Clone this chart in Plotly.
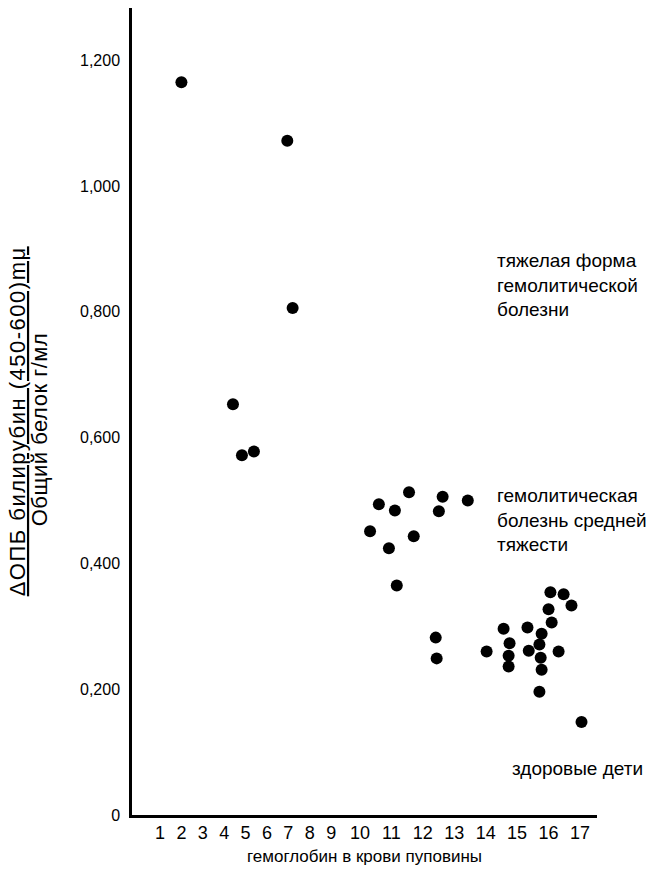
import numpy as np
import plotly.graph_objects as go

# Hemoglobin in cord blood (x) and bilirubin/protein ratio (y)
hemoglobin = [2.0, 6.95, 7.2, 4.41, 4.83, 5.39,
              11.56, 10.60, 11.11, 12.63, 13.43, 12.51, 10.32, 11.71, 10.92, 11.17, 12.41, 12.44,
              16.06, 16.48, 16.73, 16.00, 16.10, 14.57, 15.33, 15.78, 14.03, 14.76, 14.73, 14.73,
              15.37, 15.71, 15.75, 15.78, 16.32, 15.71, 17.05]
ratio = [1.165, 1.072, 0.806, 0.653, 0.572, 0.578,
         0.513, 0.494, 0.484, 0.506, 0.500, 0.483, 0.451, 0.443, 0.424, 0.365, 0.282, 0.249,
         0.354, 0.351, 0.333, 0.327, 0.306, 0.296, 0.298, 0.288, 0.260, 0.273, 0.253, 0.236,
         0.261, 0.271, 0.250, 0.231, 0.260, 0.196, 0.148]

x_ticks = list(range(1, 18))
y_ticks = [0, 0.2, 0.4, 0.6, 0.8, 1.0, 1.2]
y_tick_labels = ["0", "0,200", "0,400", "0,600", "0,800", "1,000", "1,200"]

y_title_num = "ΔОПБ билирубин (450-600)mμ"
y_title_den = "Общий белок г/мл"
x_title = "гемоглобин в крови пуповины"
label_severe = "тяжелая форма<br>гемолитической<br>болезни"
label_moderate = "гемолитическая<br>болезнь средней<br>тяжести"
label_healthy = "здоровые дети"

# The source axis is not uniform: the scale widens above 9 g.
SCALE_KNOTS_HB = [0, 9, 10, 18]
SCALE_KNOTS_AX = [0, 9, 10.35, 10.35 + 8 * 1.469]


def hb_axis(h):
    return np.interp(h, SCALE_KNOTS_HB, SCALE_KNOTS_AX)


FONT = "Liberation Sans, Arial, sans-serif"

fig = go.Figure()
fig.add_trace(go.Scatter(
    x=hb_axis(hemoglobin), y=ratio, mode="markers",
    marker=dict(color="black", size=12, line=dict(width=0)),
    showlegend=False,
))

fig.update_layout(
    width=656, height=871,
    margin=dict(l=132, r=59, t=8, b=56),
    paper_bgcolor="white", plot_bgcolor="white",
    font=dict(family=FONT, color="black"),
    xaxis=dict(
        range=[-0.31, 21.43], showgrid=False, zeroline=False,
        showline=True, linecolor="black", linewidth=2.5,
        tickmode="array", tickvals=list(hb_axis(x_ticks)),
        ticktext=[str(t) for t in x_ticks],
        ticks="", tickfont=dict(size=18, family=FONT),
    ),
    yaxis=dict(
        range=[0, 1.283], showgrid=False, zeroline=False,
        showline=True, linecolor="black", linewidth=2.5,
        tickmode="array", tickvals=y_ticks, ticktext=y_tick_labels,
        ticks="", ticklabelstandoff=6, tickfont=dict(size=16, family=FONT),
    ),
)

fig.add_annotation(xref="paper", yref="paper", x=0.5, y=-0.052,
                   text=x_title, showarrow=False, xanchor="center", yanchor="middle",
                   font=dict(size=17, family=FONT))
# y-axis title drawn as a fraction: underlined numerator over denominator
fig.add_annotation(xref="paper", yref="paper", x=-0.247, y=0.488,
                   text='<span style="letter-spacing:1.5px"><u>' + y_title_num + "</u></span>",
                   textangle=-90, showarrow=False, xanchor="center", yanchor="middle",
                   font=dict(size=22, family=FONT))
fig.add_annotation(xref="paper", yref="paper", x=-0.2, y=0.478,
                   text='<span style="letter-spacing:0.5px">' + y_title_den + "</span>",
                   textangle=-90, showarrow=False, xanchor="center", yanchor="middle",
                   font=dict(size=22, family=FONT))
fig.add_annotation(xref="paper", yref="paper", x=0.781, y=0.657,
                   text=label_severe, showarrow=False, xanchor="left", yanchor="middle",
                   align="left", font=dict(size=19, family=FONT))
fig.add_annotation(xref="paper", yref="paper", x=0.781, y=0.366,
                   text=label_moderate, showarrow=False, xanchor="left", yanchor="middle",
                   align="left", font=dict(size=19, family=FONT))
fig.add_annotation(xref="paper", yref="paper", x=0.813, y=0.058,
                   text=label_healthy, showarrow=False, xanchor="left", yanchor="middle",
                   align="left", font=dict(size=19, family=FONT))

fig.write_html("out.html")
